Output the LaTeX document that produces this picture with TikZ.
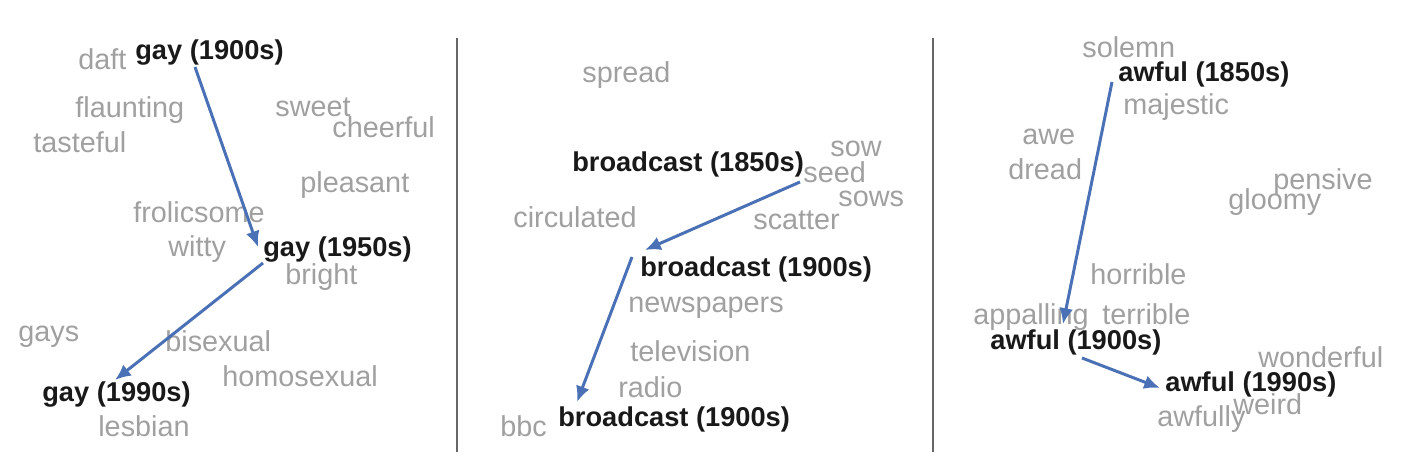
\documentclass[tikz,border=0pt]{standalone}
\usepackage{fontspec}
\setmainfont{Liberation Sans}
\usetikzlibrary{arrows.meta}
\definecolor{driftblue}{HTML}{4A70B5}
\definecolor{neighbour}{HTML}{A0A0A0}

\begin{document}
\begin{tikzpicture}[x=0.02cm,y=-0.02cm]
    \tikzstyle{word}=[anchor=base west,inner sep=0pt,text=neighbour,font=\fontsize{16.4}{18}\selectfont]
    \tikzstyle{target word}=[word,text=black!90,font=\fontsize{15.5}{18}\selectfont\bfseries]
    \tikzstyle{drift}=[draw=driftblue,line width=1.7pt,-{Latex[length=9pt,width=8pt]}]
    \tikzstyle{separator}=[draw=black!60,line width=1pt]

    \useasboundingbox (0,0) rectangle (1401,465);

    % Panel separators
    \foreach \x in {457,933}
        \draw[separator] (\x,38) -- (\x,452);

    % Neighbours of gay
    \foreach \w/\x/\y in {daft/78/70, flaunting/75/118, tasteful/33/153, sweet/275/117,
                          cheerful/332/138, pleasant/300/193, frolicsome/133/223,
                          witty/168/257, bright/285/285, gays/18/342, bisexual/165/352,
                          homosexual/222/387, lesbian/98/437}
        \node[word] (W-\w) at (\x,\y) {\w};

    % Neighbours of broadcast
    \foreach \w/\x/\y in {spread/582/83, sow/830/157, seed/803/183, sows/838/207,
                          circulated/513/228, scatter/753/230, newspapers/628/313,
                          television/630/362, radio/618/398, bbc/500/437}
        \node[word] (W-\w) at (\x,\y) {\w};

    % Neighbours of awful
    \foreach \w/\x/\y in {solemn/1082/58, majestic/1123/115, awe/1022/145, dread/1008/180,
                          pensive/1273/190, gloomy/1228/210, horrible/1090/285,
                          appalling/973/325, terrible/1102/325, wonderful/1258/368,
                          weird/1233/415, awfully/1157/427}
        \node[word] (W-\w) at (\x,\y) {\w};

    % The words through time
    \node[target word] (gay-1900) at (135,60) {gay (1900s)};
    \node[target word] (gay-1950) at (263,257) {gay (1950s)};
    \node[target word] (gay-1990) at (42,402) {gay (1990s)};

    \node[target word] (bc-1850) at (572,172) {broadcast (1850s)};
    \node[target word] (bc-1900) at (640,277) {broadcast (1900s)};
    \node[target word] (bc-1900b) at (558,427) {broadcast (1900s)};

    \node[target word] (aw-1850) at (1118,82) {awful (1850s)};
    \node[target word] (aw-1900) at (990,350) {awful (1900s)};
    \node[target word] (aw-1990) at (1165,392) {awful (1990s)};

    % Ends of the drift arrows
    \coordinate (gay-a) at (195,67);
    \coordinate (gay-b) at (258,247);
    \coordinate (gay-c) at (263,263);
    \coordinate (gay-d) at (115,380);
    \coordinate (bc-a) at (800,182);
    \coordinate (bc-b) at (645,250);
    \coordinate (bc-c) at (632,257);
    \coordinate (bc-d) at (577,402);
    \coordinate (aw-a) at (1112,82);
    \coordinate (aw-b) at (1063,324);
    \coordinate (aw-c) at (1082,358);
    \coordinate (aw-d) at (1160,388);

    % Draw the shifts
    \foreach \w in {gay,bc,aw}{
        \draw[drift] (\w-a) -- (\w-b);
        \draw[drift] (\w-c) -- (\w-d);
    }
\end{tikzpicture}
\end{document}
